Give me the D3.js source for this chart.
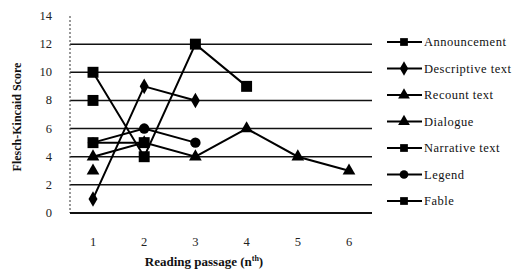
<!DOCTYPE html>
<html>
<head>
<meta charset="utf-8">
<script src="https://cdn.jsdelivr.net/npm/d3@7"></script>
<style>
  body { margin: 0; background: #fff; }
  svg text { font-family: "Liberation Serif", "DejaVu Serif", serif; }
</style>
</head>
<body>
<div id="chart"></div>
<script>
// passages on the x axis
const passages = [1, 2, 3, 4, 5, 6];
const yTicks = [0, 2, 4, 6, 8, 10, 12, 14];

// series values, one per passage
const announcement = [10, 4, 12, 9];
const descriptiveText = [1, 9, 8];
const recountText = [4, 5, 4, 6, 4, 3];
const dialogue = [3];
const narrativeText = [8];
const legendText = [5, 6, 5];
const fable = [5, 5];

const seriesNames = ['Announcement', 'Descriptive text', 'Recount text', 'Dialogue', 'Narrative text', 'Legend', 'Fable'];
const seriesValues = [announcement, descriptiveText, recountText, dialogue, narrativeText, legendText, fable];
const seriesShapes = ['square', 'diamond', 'triangle', 'triangle', 'square', 'circle', 'square'];

(function() {
  const width = 526, height = 276;
  const svg = d3.select('#chart').append('svg')
    .attr('width', width).attr('height', height);

  const plotLeft = 70, plotRight = 372, plotTop = 16, plotBottom = 213;

  const x = d3.scalePoint().domain(passages).range([93, 349]);
  const y = d3.scaleLinear().domain([0, 14]).range([plotBottom, plotTop]);

  // gridlines
  svg.append('g').selectAll('line')
    .data(yTicks.filter(d => d > 0 && d < 14))
    .enter().append('line')
    .attr('x1', plotLeft).attr('x2', plotRight)
    .attr('y1', d => y(d)).attr('y2', d => y(d))
    .attr('stroke', '#111').attr('stroke-width', 1.5);

  // left axis (dotted) and bottom axis
  svg.append('line')
    .attr('x1', plotLeft).attr('x2', plotLeft)
    .attr('y1', plotTop).attr('y2', plotBottom)
    .attr('stroke', '#555').attr('stroke-width', 1.2)
    .attr('stroke-dasharray', '2,2');
  svg.append('line')
    .attr('x1', plotLeft).attr('x2', plotRight)
    .attr('y1', plotBottom).attr('y2', plotBottom)
    .attr('stroke', '#111').attr('stroke-width', 2.2);

  // y tick labels
  svg.append('g').selectAll('text')
    .data(yTicks).enter().append('text')
    .attr('x', 52).attr('y', d => y(d) + 4)
    .attr('text-anchor', 'end')
    .attr('font-size', 12.5).attr('fill', '#222')
    .text(d => d);

  // x tick labels
  svg.append('g').selectAll('text')
    .data(passages).enter().append('text')
    .attr('x', d => x(d)).attr('y', 246)
    .attr('text-anchor', 'middle')
    .attr('font-size', 12.5).attr('fill', '#222')
    .text(d => d);

  // axis titles
  const xt = svg.append('text')
    .attr('x', 204).attr('y', 266)
    .attr('text-anchor', 'middle')
    .attr('font-size', 13).attr('font-weight', 'bold').attr('fill', '#111');
  xt.append('tspan').text('Reading passage (n');
  xt.append('tspan').attr('font-size', 8).attr('dy', -5).text('th');
  xt.append('tspan').attr('dy', 5).text(')');

  svg.append('text')
    .attr('transform', 'translate(21,117) rotate(-90)')
    .attr('text-anchor', 'middle')
    .attr('font-size', 12).attr('font-weight', 'bold').attr('fill', '#111')
    .text('Flesch-Kincaid Score');

  const symbolType = {
    square: d3.symbolSquare, diamond: d3.symbolDiamond,
    triangle: d3.symbolTriangle, circle: d3.symbolCircle
  };
  const symbolSize = { square: 120, diamond: 70, triangle: 70, circle: 85 };

  const line = d3.line()
    .x(d => x(d.p)).y(d => y(d.v));

  seriesValues.forEach((vals, i) => {
    const pts = vals.map((v, j) => ({ p: passages[j], v: v }));
    const g = svg.append('g');
    g.append('path').datum(pts)
      .attr('d', line).attr('fill', 'none')
      .attr('stroke', '#000').attr('stroke-width', 2);
    g.selectAll('path.pt').data(pts)
      .enter().append('path').attr('class', 'pt')
      .attr('transform', d => `translate(${x(d.p)},${y(d.v)})`)
      .attr('d', d3.symbol().type(symbolType[seriesShapes[i]]).size(symbolSize[seriesShapes[i]]))
      .attr('fill', '#000');
  });

  // legend
  const leg = svg.append('g').selectAll('g')
    .data(seriesNames).enter().append('g')
    .attr('transform', (d, i) => `translate(387,${42 + i * 26.5})`);
  leg.append('line')
    .attr('x1', 0).attr('x2', 35).attr('y1', 0).attr('y2', 0)
    .attr('stroke', '#000').attr('stroke-width', 2);
  leg.append('path')
    .attr('transform', 'translate(17,0)')
    .attr('d', (d, i) => d3.symbol().type(symbolType[seriesShapes[i]]).size(60)())
    .attr('fill', '#000');
  leg.append('text')
    .attr('x', 37).attr('y', 4)
    .attr('font-size', 12.5).attr('letter-spacing', 0.5).attr('fill', '#111')
    .text(d => d);
})();
</script>
</body>
</html>
